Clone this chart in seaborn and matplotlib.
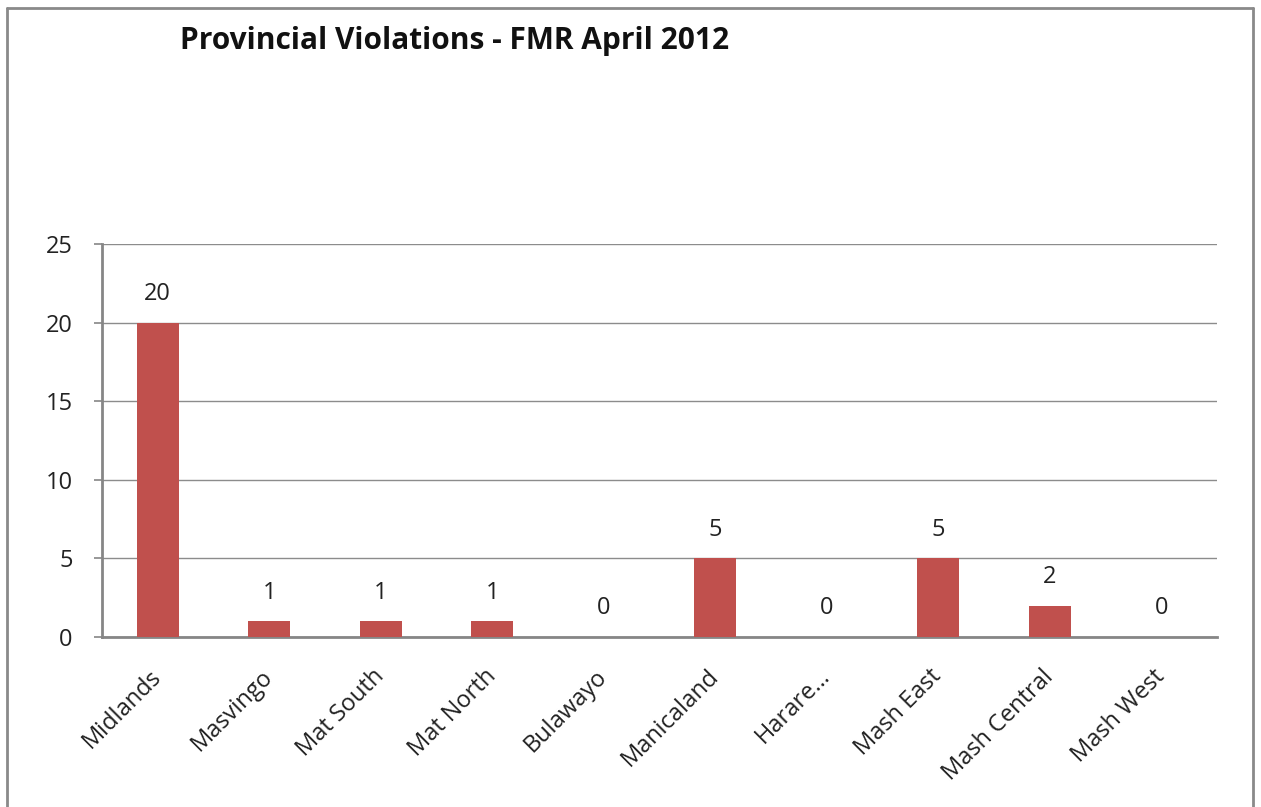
import matplotlib
matplotlib.use("Agg")
import matplotlib.pyplot as plt
import seaborn as sns
import pandas as pd
from matplotlib.lines import Line2D

categories = ["Midlands", "Masvingo", "Mat South", "Mat North", "Bulawayo",
              "Manicaland", "Harare…", "Mash East", "Mash Central", "Mash West"]
values = [20, 1, 1, 1, 0, 5, 0, 5, 2, 0]
yticks = [0, 5, 10, 15, 20, 25]
title = "Provincial Violations - FMR April 2012"

sns.set_theme(style="white")
plt.rcParams['font.family'] = ['Open Sans', 'DejaVu Sans']

df = pd.DataFrame({"Province": categories, "Violations": values})

W, H = 1261, 807
fig = plt.figure(figsize=(W / 100, H / 100), dpi=100)
ax = fig.add_axes([102 / W, 1 - 637 / H, (1217 - 102) / W, (637 - 244) / H])

sns.barplot(data=df, x="Province", y="Violations", color="#C0504D",
            saturation=1, width=0.38, linewidth=0, ax=ax, zorder=3)

ax.set_xlim(-0.5, len(categories) - 0.5)
ax.set_ylim(0, 25)
ax.set_yticks(yticks)
ax.set_yticklabels([str(t) for t in yticks], fontsize=17, color="#222222")
ax.yaxis.grid(True, color="#8c8c8c", linewidth=1.0, zorder=0)
ax.xaxis.grid(False)
ax.set_axisbelow(True)

ax.set_xticks(range(len(categories)))
ax.set_xticklabels(categories, rotation=45, ha="right", va="center",
                   rotation_mode="anchor", fontsize=17, color="#222222")
ax.set_xticks([i - 0.5 for i in range(len(categories) + 1)], minor=True)
ax.tick_params(axis="x", which="major", length=0, pad=26)
ax.tick_params(axis="x", which="minor", length=5, width=1.2, color="#868686", direction="out")
ax.tick_params(axis="y", which="major", length=6, width=1.2, color="#868686", direction="out", pad=15, left=True)

for side in ["top", "right"]:
    ax.spines[side].set_visible(False)
for side in ["left", "bottom"]:
    ax.spines[side].set_color("#868686")
    ax.spines[side].set_linewidth(2)

ax.set_xlabel("")
ax.set_ylabel("")

for c in ax.containers:
    ax.bar_label(c, labels=[str(v) for v in values], padding=12, fontsize=17, color="#222222")

fig.text(180 / W, 1 - 41 / H, title, fontsize=21.5, fontweight="bold",
         ha="left", va="center", color="#111111")

# outer chart border (left, top, right)
bx0, bx1, by0 = 7 / W, 1253 / W, 1 - 8 / H
fig.add_artist(Line2D([bx0, bx0], [0, by0], transform=fig.transFigure, color="#8a8a8a", lw=2))
fig.add_artist(Line2D([bx0, bx1], [by0, by0], transform=fig.transFigure, color="#8a8a8a", lw=2))
fig.add_artist(Line2D([bx1, bx1], [0, by0], transform=fig.transFigure, color="#8a8a8a", lw=2))

fig.savefig("out.png", dpi=100)
